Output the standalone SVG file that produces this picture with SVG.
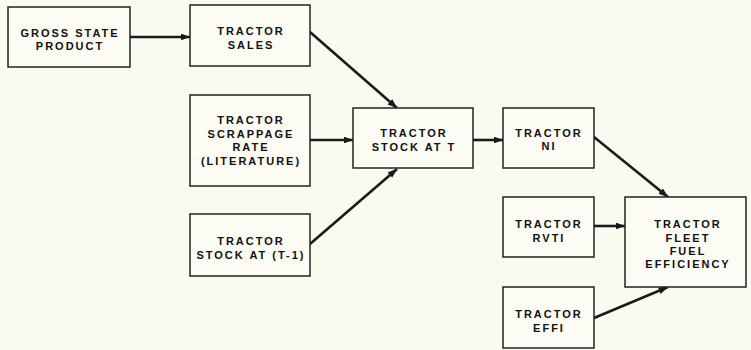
<svg xmlns="http://www.w3.org/2000/svg" width="751" height="350" viewBox="0 0 751 350">
  <defs>
    <marker id="ah" markerUnits="userSpaceOnUse" markerWidth="11" markerHeight="8" refX="9.5" refY="3.5" orient="auto">
      <path d="M0,0 L10,3.5 L0,7 z" fill="#1a1a1a"/>
    </marker>
    <style>
      .box { fill: #fcfcf4; stroke: #222; stroke-width: 1.5; }
      .lbl { font-family: "Liberation Sans", Arial, sans-serif; font-weight: bold; font-size: 11px; letter-spacing: 2px; fill: #111; text-anchor: middle; }
      .con { stroke: #1a1a1a; stroke-width: 2.6; fill: none; marker-end: url(#ah); }
    </style>
  </defs>
  <rect width="751" height="350" fill="#fbfaf0"/>

  <g id="connectors">
    <line class="con" x1="130" y1="37" x2="190" y2="37"/>
    <line class="con" x1="310" y1="32" x2="397" y2="108"/>
    <line class="con" x1="310" y1="140" x2="353" y2="140"/>
    <line class="con" x1="310" y1="244" x2="397" y2="169"/>
    <line class="con" x1="473" y1="140" x2="503" y2="140"/>
    <line class="con" x1="594" y1="137" x2="668" y2="197"/>
    <line class="con" x1="594" y1="226" x2="625" y2="226"/>
    <line class="con" x1="594" y1="318" x2="668" y2="287"/>
  </g>

  <g id="gross-state-product">
    <rect class="box" x="8" y="7" width="122" height="60"/>
    <text class="lbl" x="70" y="37">GROSS STATE</text>
    <text class="lbl" x="70" y="50">PRODUCT</text>
  </g>
  <g id="tractor-sales">
    <rect class="box" x="190" y="5" width="120" height="61"/>
    <text class="lbl" x="251" y="35">TRACTOR</text>
    <text class="lbl" x="251" y="49">SALES</text>
  </g>
  <g id="tractor-scrappage-rate">
    <rect class="box" x="190" y="95" width="120" height="91"/>
    <text class="lbl" x="251" y="124">TRACTOR</text>
    <text class="lbl" x="251" y="138">SCRAPPAGE</text>
    <text class="lbl" x="251" y="151">RATE</text>
    <text class="lbl" x="251" y="165">(LITERATURE)</text>
  </g>
  <g id="tractor-stock-t-1">
    <rect class="box" x="190" y="214" width="120" height="62"/>
    <text class="lbl" x="251" y="245">TRACTOR</text>
    <text class="lbl" x="251" y="259">STOCK AT (T-1)</text>
  </g>
  <g id="tractor-stock-t">
    <rect class="box" x="353" y="108" width="120" height="60"/>
    <text class="lbl" x="414" y="137">TRACTOR</text>
    <text class="lbl" x="414" y="151">STOCK AT T</text>
  </g>
  <g id="tractor-ni">
    <rect class="box" x="503" y="108" width="91" height="60"/>
    <text class="lbl" x="549" y="137">TRACTOR</text>
    <text class="lbl" x="549" y="150">NI</text>
  </g>
  <g id="tractor-rvti">
    <rect class="box" x="503" y="197" width="91" height="60"/>
    <text class="lbl" x="549" y="228">TRACTOR</text>
    <text class="lbl" x="549" y="242">RVTI</text>
  </g>
  <g id="tractor-effi">
    <rect class="box" x="503" y="287" width="91" height="61"/>
    <text class="lbl" x="549" y="318">TRACTOR</text>
    <text class="lbl" x="549" y="332">EFFI</text>
  </g>
  <g id="tractor-fleet-fuel-efficiency">
    <rect class="box" x="625" y="197" width="121" height="90"/>
    <text class="lbl" x="688" y="228">TRACTOR</text>
    <text class="lbl" x="688" y="242">FLEET</text>
    <text class="lbl" x="688" y="255">FUEL</text>
    <text class="lbl" x="688" y="268">EFFICIENCY</text>
  </g>
</svg>
